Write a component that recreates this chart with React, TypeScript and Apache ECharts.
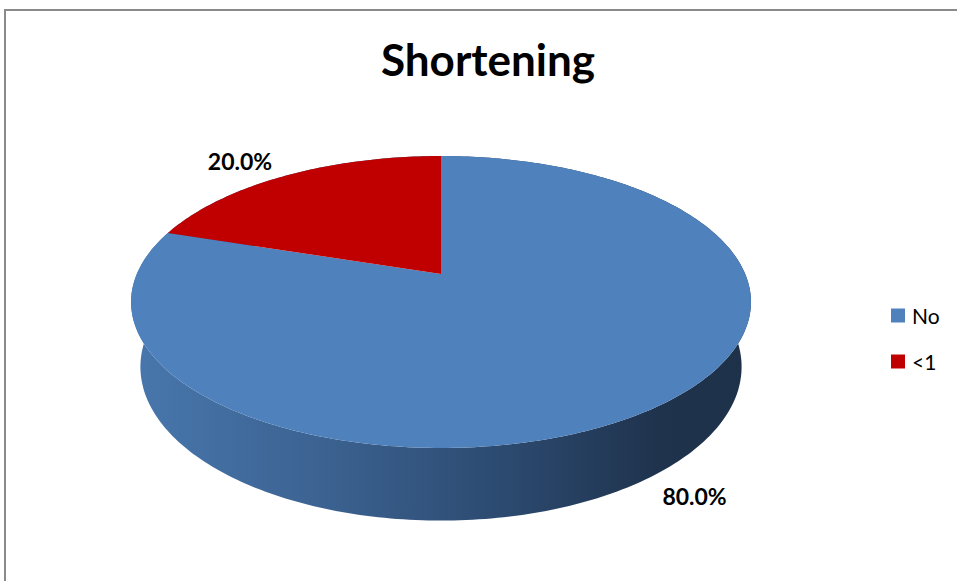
import React, { useEffect, useRef } from "react";
import * as echarts from "echarts";

const categories = ["No", "<1"];
const values = [80, 20];
const colors = ["#4F81BD", "#C00000"];
const titleText = "Shortening";

// projection of the tilted disc (layout constants)
const CX = 441;
const CY = 274;
const A = 304.2;
const B = 140.6;
const P = 0.1918;
const Q = 0.03;
const D = 66.1;

function project(u: number, v: number, h: number): number[] {
  const w = 1 - P * v + Q * h;
  return [CX + (A * u) / w, CY + (B * v + D * h) / w];
}
function rim(phi: number, h: number): number[] {
  return project(Math.sin(phi), -Math.cos(phi), h);
}

const total = values.reduce((s, v) => s + v, 0);
function sliceRange(i: number, val: number): number[] {
  let before = 0;
  for (let k = 0; k < i; k++) before += values[k];
  const s = (before / total) * Math.PI * 2;
  const e = ((before + val) / total) * Math.PI * 2;
  return [s, e];
}

const wallGradient = {
  type: "linear",
  x: 131,
  y: 0,
  x2: 751,
  y2: 0,
  global: true,
  colorStops: [
    { offset: 0, color: "#4877AD" },
    { offset: 0.3, color: "#3C6392" },
    { offset: 0.6, color: "#2C4A70" },
    { offset: 0.85, color: "#1F334D" },
    { offset: 1, color: "#1E3149" },
  ],
};

export default function App() {
  const ref = useRef<HTMLDivElement>(null);
  useEffect(() => {
    if (!ref.current) return;
    const chart = echarts.init(ref.current, undefined, { renderer: "svg" });

    const wallSeries: any = {
      type: "custom",
      name: "walls",
      coordinateSystem: "none",
      z: 1,
      silent: true,
      data: values.map((v) => [v]),
      renderItem: (params: any, api: any) => {
        const i = params.dataIndex;
        const [s, e] = sliceRange(i, api.value(0));
        const n = Math.max(2, Math.ceil(((e - s) / (Math.PI * 2)) * 360));
        const pts: number[][] = [];
        for (let k = 0; k <= n; k++) pts.push(rim(s + ((e - s) * k) / n, 0));
        for (let k = n; k >= 0; k--) pts.push(rim(s + ((e - s) * k) / n, 1));
        return {
          type: "polygon",
          shape: { points: pts },
          style: { fill: wallGradient as any, stroke: null },
        };
      },
    };

    const topSeries: any[] = categories.map((name, i) => ({
      type: "custom",
      name,
      coordinateSystem: "none",
      z: 2,
      itemStyle: { color: colors[i] },
      data: [[values[i]]],
      renderItem: (params: any, api: any) => {
        const val = api.value(0);
        const [s, e] = sliceRange(i, val);
        const n = Math.max(2, Math.ceil(((e - s) / (Math.PI * 2)) * 360));
        const pts: number[][] = [project(0, 0, 0)];
        for (let k = 0; k <= n; k++) pts.push(rim(s + ((e - s) * k) / n, 0));
        const mid = (s + e) / 2;
        const u = Math.sin(mid);
        const v = -Math.cos(mid);
        const anchor = v < 0 ? rim(mid, 0) : rim(mid, 1);
        const pct = ((val / total) * 100).toFixed(1) + "%";
        return {
          type: "group",
          children: [
            {
              type: "polygon",
              shape: { points: pts },
              style: { fill: colors[i], stroke: null },
            },
            {
              type: "text",
              style: {
                text: pct,
                x: anchor[0] + (u < 0 ? -14 : 17),
                y: anchor[1] + (v < 0 ? -3 : 5),
                align: u < 0 ? "right" : "left",
                verticalAlign: v < 0 ? "bottom" : "top",
                fill: "#000",
                fontSize: 23,
                fontWeight: "bold",
                fontFamily: "Lato",
              },
            },
          ],
        };
      },
    }));

    chart.setOption({
      animation: false,
      backgroundColor: "#fff",
      title: {
        text: titleText,
        left: 483,
        top: 32,
        textAlign: "center",
        textStyle: {
          fontSize: 44,
          fontWeight: "bold",
          fontFamily: "Lato",
          color: "#000",
        },
      },
      legend: {
        orient: "vertical",
        left: 886,
        top: 300,
        itemWidth: 14,
        itemHeight: 14,
        itemGap: 25,
        icon: "rect",
        data: categories,
        textStyle: { fontSize: 21, fontFamily: "Lato", color: "#000", padding: [0, 0, 0, 2] },
      },
      graphic: [
        {
          type: "rect",
          shape: { x: 5, y: 10, width: 1000, height: 1000 },
          style: { fill: "none", stroke: "#8A8A8A", lineWidth: 2 },
          silent: true,
          z: -1,
        },
      ],
      series: [wallSeries, ...topSeries],
    });
    return () => chart.dispose();
  }, []);
  return (
    <div
      ref={ref}
      style={{ position: "absolute", left: 0, top: 0, width: 957, height: 581 }}
    />
  );
}
